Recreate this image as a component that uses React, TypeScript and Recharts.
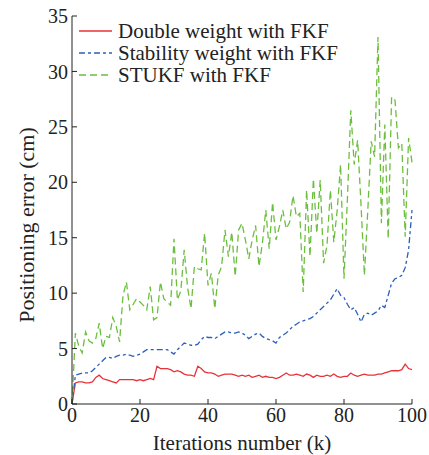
import React from "react";
import { LineChart, Line, XAxis, YAxis } from "recharts";

// Iteration index 0..100
const iterations: number[] = Array.from({ length: 101 }, (_, i) => i);

const doubleWeight: number[] = [
  0, 1.9, 2.0, 2.0, 1.9, 1.9, 2.0, 2.4, 2.6, 2.3,
  2.2, 2.1, 2.0, 1.9, 2.2, 2.2, 2.2, 2.2, 2.2, 2.1,
  2.2, 2.1, 2.2, 2.3, 2.2, 3.4, 3.2, 3.2, 3.2, 3.1,
  2.9, 3.0, 2.9, 2.7, 2.6, 2.6, 2.5, 3.4, 3.2, 2.9,
  2.8, 2.8, 2.7, 2.5, 2.6, 2.7, 2.7, 2.7, 2.6, 2.5,
  2.6, 2.5, 2.6, 2.4, 2.5, 2.6, 2.4, 2.5, 2.4, 2.4,
  2.3, 2.4, 2.6, 2.8, 2.6, 2.6, 2.7, 2.6, 2.5, 2.7,
  2.6, 2.4, 2.6, 2.5, 2.5, 2.6, 2.5, 2.7, 2.5, 2.4,
  2.5, 2.5, 2.8, 2.6, 2.5, 2.6, 2.7, 2.6, 2.6, 2.6,
  2.7, 2.7, 2.8, 2.9, 3.0, 3.0, 3.0, 3.1, 3.6, 3.2,
  3.1,
];

const stabilityWeight: number[] = [
  0, 2.6, 2.7, 2.8, 2.8, 2.8, 3.0, 3.3, 3.6, 3.9,
  4.2, 4.2, 4.1, 4.3, 4.4, 4.4, 4.5, 4.4, 4.3, 4.4,
  4.5, 4.7, 4.9, 4.9, 4.9, 4.9, 4.9, 4.9, 4.9, 4.7,
  4.5, 4.9, 5.2, 5.5, 5.4, 5.3, 5.3, 5.4, 5.8, 6.1,
  6.0, 6.0, 5.9, 6.1, 6.3, 6.5, 6.5, 6.4, 6.4, 6.5,
  6.4, 6.2, 5.9, 6.1, 6.3, 6.4, 6.1, 5.9, 5.8, 5.7,
  5.5, 6.0, 6.2, 6.4, 6.7, 7.0, 7.2, 7.4, 7.5, 7.6,
  7.7, 7.9, 8.2, 8.5, 8.8, 9.1, 9.4, 9.9, 10.4, 9.8,
  9.6, 9.0, 8.5, 8.7, 8.1, 7.4, 8.1, 8.2, 8.0, 8.2,
  8.4, 8.9, 8.7, 9.8, 10.9, 11.3, 11.4, 11.6, 12.3, 13.9,
  17.5,
];

const stukf: number[] = [
  0, 6.4, 5.2, 4.6, 6.5, 5.7, 5.5, 5.9, 7.3, 5.0,
  6.1, 6.0, 7.8, 7.0, 5.6, 9.8, 11.0, 8.5, 9.0, 9.5,
  9.2, 8.9, 8.5, 10.6, 7.6, 7.8, 11.0, 9.5, 9.2, 8.9,
  14.9, 9.4, 10.2, 13.9, 10.5, 8.6, 12.4, 12.2, 12.1, 15.4,
  10.7, 11.8, 8.6, 11.6, 12.4, 15.7, 13.3, 15.5, 11.5, 15.7,
  16.3, 14.8, 13.1, 14.8, 16.1, 12.4, 14.5, 17.5, 14.0, 18.2,
  14.8, 16.0, 17.5, 15.8, 16.4, 18.8, 16.9, 17.2, 10.1, 19.3,
  13.3, 20.3, 15.4, 20.2, 12.7, 14.3, 19.3, 14.6, 17.5, 21.6,
  11.3, 18.5, 26.5, 21.6, 23.8, 18.0, 11.6, 17.5, 23.7, 22.3,
  33.1, 16.3, 25.2, 14.9, 27.7, 27.4, 23.1, 23.5, 15.1, 24.0,
  21.8,
];

const xTicks: number[] = [0, 20, 40, 60, 80, 100];
const yTicks: number[] = [0, 5, 10, 15, 20, 25, 30, 35];

const seriesNames: string[] = [
  "Double weight with FKF",
  "Stability weight with FKF",
  "STUKF with FKF",
];
const seriesColors: string[] = ["#e8323a", "#2c5fb9", "#6cbf3e"];
const seriesDashes: (string | undefined)[] = [undefined, "6 3 3 3", "7 4"];

const rows = iterations.map((k, i) => ({
  k,
  a: doubleWeight[i],
  b: stabilityWeight[i],
  c: stukf[i],
}));

const FONT = "Liberation Serif, DejaVu Serif, serif";
const TEXT = "#222";

function LegendBox() {
  return (
    <svg width={300} height={72} style={{ display: "block", fontFamily: FONT }}>
      {seriesNames.map((name, i) => (
        <g key={name} transform={`translate(0, ${11 + i * 22})`}>
          <line
            x1={3}
            x2={36}
            y1={0}
            y2={0}
            stroke={seriesColors[i]}
            strokeWidth={1.4}
            strokeDasharray={seriesDashes[i]}
          />
          <text x={42} y={7} style={{ fontSize: 21, fontFamily: FONT }} fill={TEXT}>
            {name}
          </text>
        </g>
      ))}
    </svg>
  );
}

export default function App() {
  return (
    <div
      style={{
        position: "absolute",
        left: 0,
        top: 0,
        width: 429,
        height: 455,
        background: "#fff",
        fontFamily: FONT,
      }}
    >
      <LineChart
        width={429}
        height={455}
        data={rows}
        margin={{ top: 16, right: 17, bottom: 0, left: 0 }}
        style={{ fontFamily: FONT }}
      >
        <XAxis
          dataKey="k"
          type="number"
          domain={[0, 100]}
          ticks={xTicks}
          tickSize={-5}
          tickMargin={9}
          stroke="#222"
          tick={{ fontSize: 20, fill: TEXT, style: { fontFamily: FONT } }}
          height={51}
          label={{
            value: "Iterations number (k)",
            position: "insideBottom",
            offset: 5,
            style: { fontSize: 21, fontFamily: FONT, fill: TEXT },
          }}
        />
        <XAxis
          xAxisId="top"
          orientation="top"
          dataKey="k"
          type="number"
          domain={[0, 100]}
          ticks={xTicks}
          tick={false}
          tickLine={false}
          stroke="#222"
          height={0}
        />
        <YAxis
          type="number"
          domain={[0, 35]}
          ticks={yTicks}
          tickSize={-5}
          tickMargin={9}
          stroke="#222"
          width={72}
          tick={{ fontSize: 20, fill: TEXT, style: { fontFamily: FONT } }}
          label={{
            value: "Positioning error (cm)",
            angle: -90,
            position: "insideLeft",
            offset: 26,
            dy: 15,
            style: { fontSize: 22, fontFamily: FONT, fill: TEXT, textAnchor: "middle" },
          }}
        />
        <YAxis
          yAxisId="right"
          orientation="right"
          type="number"
          domain={[0, 35]}
          ticks={yTicks}
          tickSize={-5}
          tick={false}
          stroke="#222"
          width={0}
        />
        <Line
          dataKey="a"
          name={seriesNames[0]}
          stroke={seriesColors[0]}
          strokeWidth={1.3}
          dot={false}
          isAnimationActive={false}
        />
        <Line
          dataKey="b"
          name={seriesNames[1]}
          stroke={seriesColors[1]}
          strokeWidth={1.3}
          strokeDasharray={seriesDashes[1]}
          dot={false}
          isAnimationActive={false}
        />
        <Line
          dataKey="c"
          name={seriesNames[2]}
          stroke={seriesColors[2]}
          strokeWidth={1.3}
          strokeDasharray={seriesDashes[2]}
          dot={false}
          isAnimationActive={false}
        />
      </LineChart>
      <div style={{ position: "absolute", left: 76, top: 20 }}>
        <LegendBox />
      </div>
    </div>
  );
}
